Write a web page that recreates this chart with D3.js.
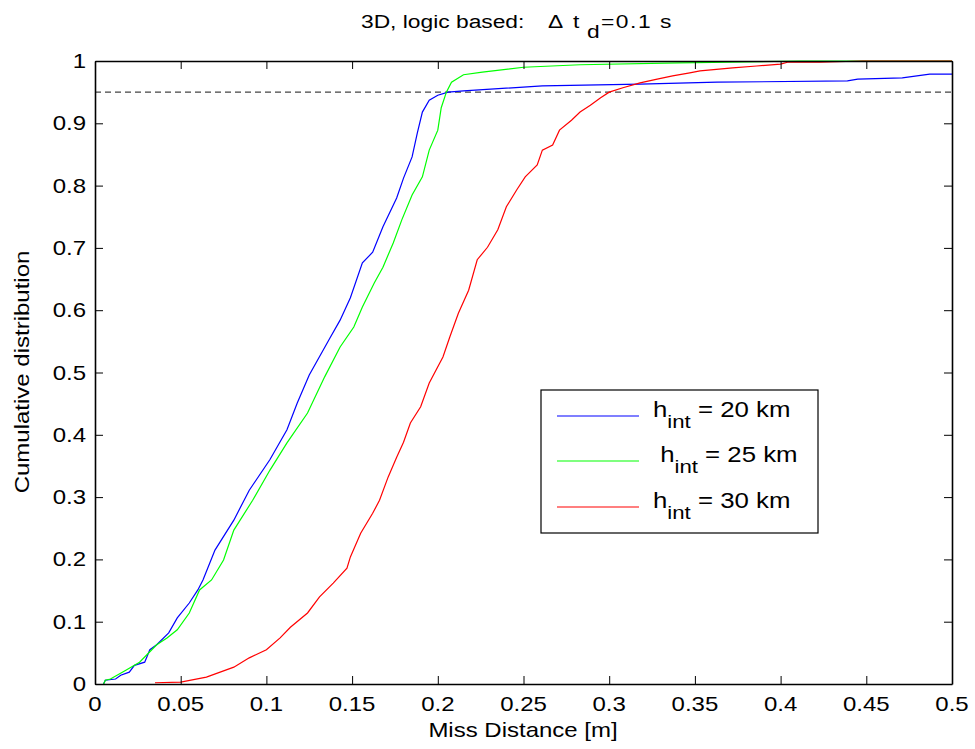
<!DOCTYPE html>
<html><head><meta charset="utf-8">
<script src="https://cdn.jsdelivr.net/npm/d3@7"></script>
<style>body{margin:0;background:#fff} text{font-family:"Liberation Sans",Arial,sans-serif;fill:#000;white-space:pre}</style>
</head><body>
<svg id="c" width="975" height="749"></svg>
<script>
// ---------- data ----------
const xTicks = [0,0.05,0.1,0.15,0.2,0.25,0.3,0.35,0.4,0.45,0.5];
const xTickLabels = ["0","0.05","0.1","0.15","0.2","0.25","0.3","0.35","0.4","0.45","0.5"];
const yTicks = [0,0.1,0.2,0.3,0.4,0.5,0.6,0.7,0.8,0.9,1];
const yTickLabels = ["0","0.1","0.2","0.3","0.4","0.5","0.6","0.7","0.8","0.9","1"];
const threshold = 0.95;

const blueX = [0.005,0.006,0.012,0.015,0.020,0.023,0.029,0.032,0.036,0.043,0.048,0.055,0.060,0.063,0.070,0.081,0.090,0.102,0.112,0.118,0.125,0.137,0.143,0.149,0.156,0.162,0.168,0.176,0.180,0.185,0.188,0.191,0.195,0.200,0.206,0.215,0.261,0.318,0.363,0.439,0.445,0.471,0.487,0.500];
const blueY = [0,0.006,0.008,0.014,0.019,0.030,0.035,0.055,0.063,0.082,0.106,0.130,0.151,0.167,0.215,0.263,0.311,0.360,0.408,0.451,0.496,0.555,0.584,0.620,0.676,0.693,0.734,0.780,0.812,0.846,0.884,0.918,0.937,0.945,0.950,0.952,0.960,0.963,0.966,0.968,0.971,0.973,0.979,0.979];

const greenX = [0.005,0.006,0.009,0.018,0.026,0.036,0.042,0.048,0.055,0.061,0.068,0.075,0.081,0.092,0.102,0.112,0.124,0.134,0.143,0.151,0.156,0.163,0.168,0.174,0.179,0.185,0.191,0.195,0.200,0.202,0.205,0.208,0.215,0.226,0.250,0.283,0.341,0.370,0.411,0.500];
const greenY = [0,0.006,0.008,0.022,0.035,0.063,0.074,0.087,0.114,0.151,0.167,0.199,0.247,0.295,0.343,0.387,0.435,0.493,0.541,0.573,0.605,0.644,0.669,0.708,0.745,0.785,0.814,0.857,0.889,0.925,0.950,0.966,0.978,0.982,0.990,0.994,0.997,0.998,1.0,1.0];

const redX = [0.035,0.050,0.065,0.081,0.090,0.100,0.108,0.114,0.124,0.131,0.139,0.147,0.149,0.155,0.162,0.166,0.171,0.176,0.180,0.184,0.190,0.195,0.203,0.207,0.212,0.218,0.223,0.229,0.235,0.240,0.246,0.251,0.258,0.261,0.267,0.271,0.278,0.283,0.289,0.295,0.300,0.308,0.318,0.328,0.337,0.347,0.353,0.372,0.386,0.400,0.404,0.423,0.448,0.500];
const redY = [0.002,0.003,0.011,0.027,0.042,0.055,0.074,0.091,0.114,0.140,0.162,0.186,0.204,0.242,0.274,0.295,0.332,0.364,0.388,0.419,0.445,0.483,0.525,0.557,0.595,0.632,0.681,0.701,0.729,0.766,0.793,0.814,0.833,0.857,0.865,0.889,0.905,0.918,0.929,0.941,0.950,0.957,0.965,0.971,0.976,0.981,0.984,0.989,0.992,0.995,0.998,0.998,1.0,1.0];

const seriesColors = ["#0000ff","#00ff00","#ff0000"];
const legendMain = ["h"," h","h"];
const legendSub = "int";
const legendRest = [" = 20 km"," = 25 km"," = 30 km"];

// ---------- chart ----------
const W = 975, H = 749;
const m = {left:95, right:952, top:61, bottom:684};
const SX = 1.2; // horizontal font stretch
const svg = d3.select("#c");
svg.append("rect").attr("width",W).attr("height",H).attr("fill","#fff");

const x = d3.scaleLinear().domain([0,0.5]).range([m.left,m.right]);
const y = d3.scaleLinear().domain([0,1]).range([m.bottom,m.top]);

// threshold line
svg.append("line")
  .attr("x1",x(0)).attr("x2",x(0.5)).attr("y1",y(threshold)).attr("y2",y(threshold))
  .attr("stroke","#444").attr("stroke-width",1.2).attr("stroke-dasharray","6,4");

// curves
const series = [[blueX,blueY],[greenX,greenY],[redX,redY]];
const line = d3.line().x(d=>x(d[0])).y(d=>y(d[1]));
series.forEach((s,i)=>{
  svg.append("path").datum(d3.zip(s[0],s[1]))
    .attr("d",line).attr("fill","none")
    .attr("stroke",seriesColors[i]).attr("stroke-width",1.2);
});

// axes (inward ticks, box)
function styleAxis(g){
  g.select(".domain").attr("stroke","#000").attr("stroke-width",1.6);
  g.selectAll(".tick line").attr("stroke","#000").attr("stroke-width",1);
  g.selectAll(".tick text").remove();
}
svg.append("g").attr("transform",`translate(0,${m.bottom})`)
  .call(d3.axisBottom(x).tickValues(xTicks).tickSizeInner(-8).tickSizeOuter(0).tickFormat("")).call(styleAxis);
svg.append("g").attr("transform",`translate(0,${m.top})`)
  .call(d3.axisTop(x).tickValues(xTicks).tickSizeInner(-8).tickSizeOuter(0).tickFormat("")).call(styleAxis);
svg.append("g").attr("transform",`translate(${m.left},0)`)
  .call(d3.axisLeft(y).tickValues(yTicks).tickSizeInner(-8).tickSizeOuter(0).tickFormat("")).call(styleAxis);
svg.append("g").attr("transform",`translate(${m.right},0)`)
  .call(d3.axisRight(y).tickValues(yTicks).tickSizeInner(-8).tickSizeOuter(0).tickFormat("")).call(styleAxis);

// tick labels
xTicks.forEach((v,i)=>{
  svg.append("text").attr("transform",`translate(${x(v)},711) scale(${SX},1)`)
    .attr("text-anchor","middle").attr("font-size",20).text(xTickLabels[i]);
});
yTicks.forEach((v,i)=>{
  svg.append("text").attr("transform",`translate(86,${y(v)+7}) scale(${SX},1)`)
    .attr("text-anchor","end").attr("font-size",20).text(yTickLabels[i]);
});

// title (pieces positioned like the reference)
function titlePart(px, py, str, ls){
  const e = svg.append("text").attr("transform",`translate(${px},${py}) scale(${SX},1)`)
    .attr("font-size",19).text(str);
  if(ls) e.attr("letter-spacing",ls);
  return e;
}
titlePart(361,28,"3D, logic based:");
titlePart(548,28,"\u0394");
titlePart(573,28,"t");
titlePart(587,38,"d");
titlePart(601,28,"=0.1 s",1.3);

// axis labels
svg.append("text").attr("transform",`translate(523,737) scale(${SX},1)`)
  .attr("text-anchor","middle").attr("font-size",20).text("Miss Distance [m]");
svg.append("text").attr("transform",`translate(29,372) rotate(-90) scale(${SX},1)`)
  .attr("text-anchor","middle").attr("font-size",20).text("Cumulative distribution");

// legend
const lg = svg.append("g");
lg.append("rect").attr("x",541).attr("y",390).attr("width",277).attr("height",143)
  .attr("fill","#fff").attr("stroke","#000").attr("stroke-width",1.2);
const legY = [416,461,507];
seriesColors.forEach((c,i)=>{
  lg.append("line").attr("x1",557).attr("x2",639).attr("y1",legY[i]).attr("y2",legY[i])
    .attr("stroke",c).attr("stroke-width",1.2);
  const tx = lg.append("text").attr("transform",`translate(653,${legY[i]+1}) scale(${SX},1)`)
    .attr("font-size",21.5);
  tx.append("tspan").text(legendMain[i]);
  tx.append("tspan").attr("dy",11).attr("font-size",18.5).text(legendSub);
  tx.append("tspan").attr("dy",-11).text(legendRest[i]);
});
</script>
</body></html>
